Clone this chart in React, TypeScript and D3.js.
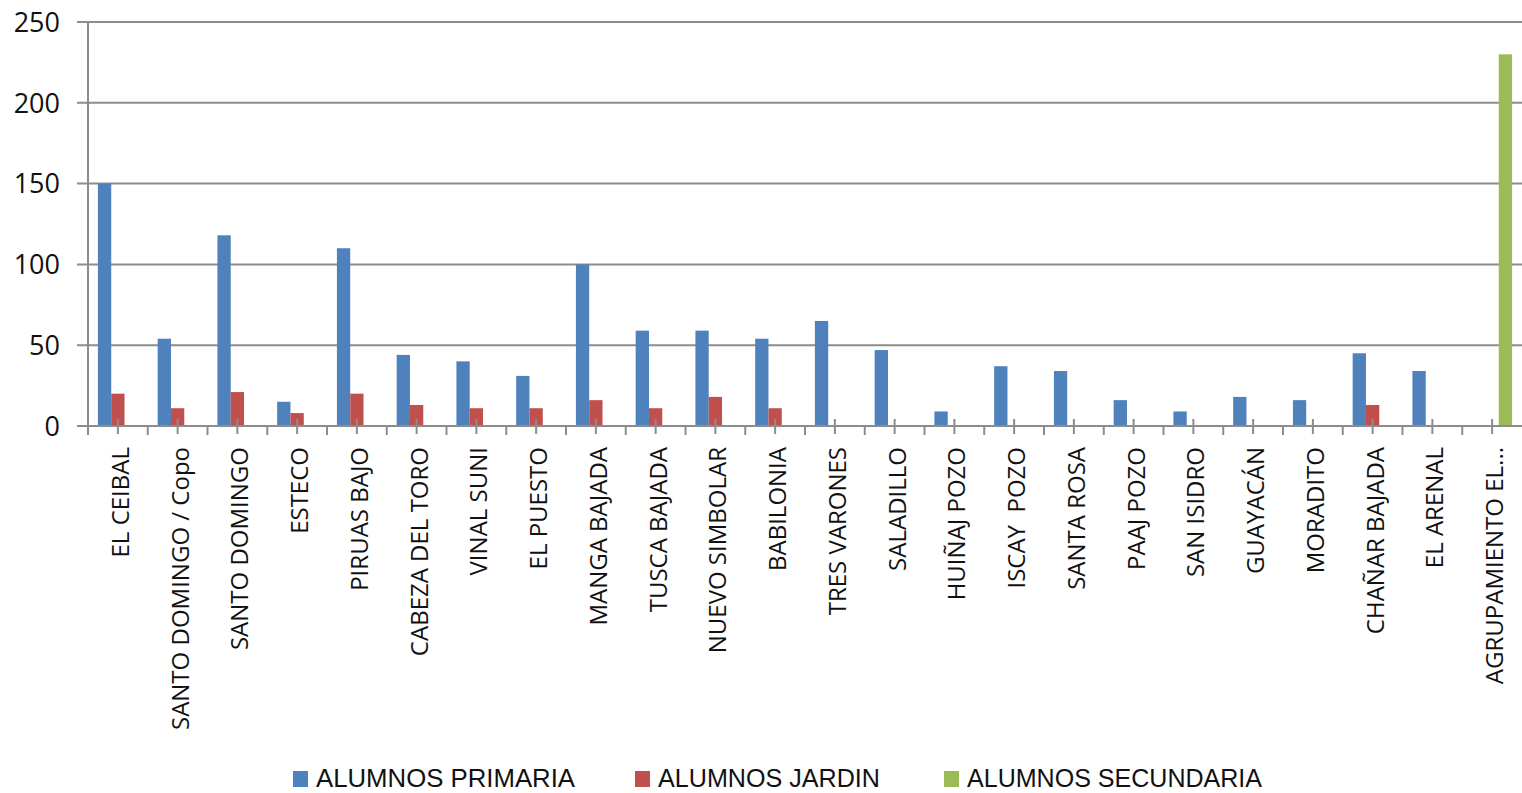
import React from 'react';
import * as d3 from 'd3';

const categories = [
  'EL CEIBAL', 'SANTO DOMINGO / Copo', 'SANTO DOMINGO', 'ESTECO', 'PIRUAS BAJO',
  'CABEZA DEL TORO', 'VINAL SUNI', 'EL PUESTO', 'MANGA BAJADA', 'TUSCA BAJADA',
  'NUEVO SIMBOLAR', 'BABILONIA', 'TRES VARONES', 'SALADILLO', 'HUIÑAJ POZO',
  'ISCAY  POZO', 'SANTA ROSA', 'PAAJ POZO', 'SAN ISIDRO', 'GUAYACÁN',
  'MORADITO', 'CHAÑAR BAJADA', 'EL ARENAL', 'AGRUPAMIENTO EL...',
];

const primaria = [150, 54, 118, 15, 110, 44, 40, 31, 100, 59, 59, 54, 65, 47, 9, 37, 34, 16, 9, 18, 16, 45, 34, 0];
const jardin = [20, 11, 21, 8, 20, 13, 11, 11, 16, 11, 18, 11, 0, 0, 0, 0, 0, 0, 0, 0, 0, 13, 0, 0];
const secundaria = [0, 0, 0, 0, 0, 0, 0, 0, 0, 0, 0, 0, 0, 0, 0, 0, 0, 0, 0, 0, 0, 0, 0, 230];

const seriesNames = ['ALUMNOS PRIMARIA', 'ALUMNOS JARDIN', 'ALUMNOS SECUNDARIA'];
const seriesColors = ['#4f81bd', '#c0504d', '#9bbb59'];
const yTicks = [0, 50, 100, 150, 200, 250];

const W = 1522;
const H = 793;
const left = 88;
const right = 1522;
const top = 22;
const bottom = 426;

export default function App() {
  const x = d3.scaleBand().domain(categories).range([left, right]);
  const xs = d3.scaleBand().domain(seriesNames).range([0, x.bandwidth()]).paddingOuter(0.745);
  const y = d3.scaleLinear().domain([0, 250]).range([bottom, top]);
  const values = [primaria, jardin, secundaria];
  const grid = '#8c8c8c';

  // legend placement (swatch x, text width)
  const legendX = [293, 635, 944];
  const legendLen = [259, 222, 295];

  return (
    <div style={{ position: 'absolute', left: 0, top: 0 }}>
      <svg width={W} height={H} style={{ display: 'block', background: '#fff' }}>
        {/* gridlines + y axis */}
        {yTicks.map(t => (
          <g key={t}>
            <line x1={77} x2={right} y1={y(t)} y2={y(t)} stroke={grid} strokeWidth={2} />
            <text x={60} y={y(t)} dy="0.36em" textAnchor="end"
              style={{ fontFamily: 'Open Sans', fontSize: 27, fill: '#111' }}>{t}</text>
          </g>
        ))}
        <line x1={left} x2={left} y1={top} y2={bottom} stroke={grid} strokeWidth={2} />

        {/* bars */}
        {values.map((vals, si) =>
          vals.map((v, i) => v > 0 ? (
            <rect key={si + '-' + i}
              x={x(categories[i])! + xs(seriesNames[si])!}
              y={y(v)}
              width={xs.bandwidth()}
              height={y(0) - y(v)}
              fill={seriesColors[si]} />
          ) : null)
        )}

        {/* x axis */}
        <line x1={left} x2={right} y1={bottom} y2={bottom} stroke={grid} strokeWidth={2} />
        {categories.map((c, i) => (
          <g key={c}>
            <line x1={x(c)!} x2={x(c)!} y1={bottom} y2={bottom + 9} stroke={grid} strokeWidth={2} />
            <line x1={x(c)! + x.bandwidth() / 2} x2={x(c)! + x.bandwidth() / 2}
              y1={bottom - 7} y2={bottom + 8} stroke={grid} strokeWidth={2} />
            <text transform={`translate(${x(c)! + x.bandwidth() / 2 + 11},447) rotate(-90)`}
              textAnchor="end"
              style={{ fontFamily: 'Open Sans', fontSize: 24, fill: '#111', whiteSpace: 'pre' }}>{c}</text>
          </g>
        ))}

        {/* legend */}
        {seriesNames.map((s, i) => (
          <g key={s}>
            <rect x={legendX[i]} y={771} width={15} height={16} fill={seriesColors[i]} />
            <text x={legendX[i] + 23} y={778} dy="0.36em"
              textLength={legendLen[i]} lengthAdjust="spacingAndGlyphs"
              style={{ fontFamily: 'Liberation Sans', fontSize: 25, fill: '#111' }}>{s}</text>
          </g>
        ))}
      </svg>
    </div>
  );
}
